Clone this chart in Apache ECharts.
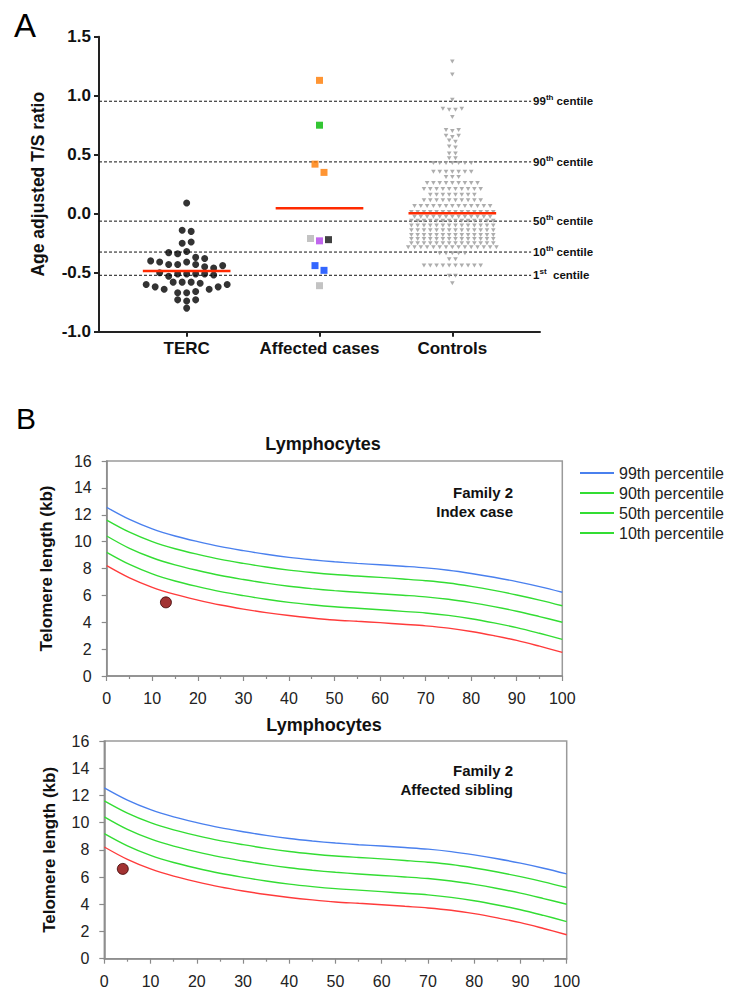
<!DOCTYPE html>
<html><head><meta charset="utf-8">
<script src="https://cdn.jsdelivr.net/npm/echarts@6/dist/echarts.min.js"></script>
<style>html,body{margin:0;padding:0;background:#fff}#c{width:736px;height:990px}</style>
</head><body><div id="c"></div>
<script>
// ---------- Panel A data ----------
const groupNames = ['TERC', 'Affected cases', 'Controls'];
const tercValues = [
  0.09,
  -0.14, -0.15,
  -0.25, -0.24,
  -0.33, -0.34, -0.32,
  -0.37, -0.40, -0.41, -0.43, -0.43, -0.41, -0.38,
  -0.43, -0.45, -0.46, -0.44,
  -0.50, -0.53, -0.51, -0.51, -0.51, -0.51, -0.52,
  -0.60, -0.62, -0.64, -0.58, -0.58, -0.58, -0.59, -0.64, -0.62, -0.60,
  -0.67, -0.67, -0.66,
  -0.73, -0.74, -0.73,
  -0.80
];
const affectedValues = [1.13, 0.75, 0.42, 0.35, -0.21, -0.23, -0.22, -0.44, -0.48, -0.61];
const affectedColors = ['#ff7a00', '#00b800', '#ff7a00', '#ff7a00', '#b4b4b4', '#b040e8', '#111111', '#0040ff', '#0040ff', '#b4b4b4'];
const controlValues = [
  1.29,
  1.18,
  0.965,
  0.89, 0.88, 0.88, 0.89,
  0.82,
  0.71, 0.70, 0.71,
  0.66, 0.65, 0.66,
  0.62, 0.61,
  0.57, 0.56,
  0.51, 0.51,
  0.47, 0.47,
  0.43, 0.43, 0.43, 0.43, 0.43, 0.43, 0.43,
  0.355, 0.355, 0.355, 0.355, 0.355, 0.355, 0.355,
  0.31, 0.31, 0.31,
  0.26, 0.26, 0.26, 0.26, 0.26, 0.26, 0.26, 0.26, 0.26,
  0.21, 0.21, 0.21, 0.21, 0.21, 0.21, 0.21, 0.21, 0.21, 0.21,
  0.16, 0.16, 0.16, 0.16, 0.16, 0.16, 0.16, 0.16,
  0.115, 0.115, 0.115, 0.115, 0.115, 0.115, 0.115, 0.115, 0.115, 0.115,
  0.065, 0.065, 0.065, 0.065, 0.065, 0.065, 0.065, 0.065, 0.065, 0.065, 0.065, 0.065, 0.065,
  0.015, 0.015, 0.015, 0.015, 0.015, 0.015, 0.015, 0.015, 0.015, 0.015, 0.015, 0.015, 0.015, 0.015,
  -0.025, -0.025, -0.025, -0.025, -0.025, -0.025, -0.025, -0.025, -0.025, -0.025, -0.025, -0.025, -0.025,
  -0.06, -0.06, -0.06, -0.06, -0.06, -0.06, -0.06, -0.06, -0.06, -0.06, -0.06, -0.06, -0.06, -0.06,
  -0.10, -0.10, -0.10, -0.10, -0.10, -0.10, -0.10, -0.10, -0.10, -0.10, -0.10, -0.10, -0.10, -0.10,
  -0.14, -0.14, -0.14, -0.14, -0.14, -0.14, -0.14, -0.14, -0.14, -0.14, -0.14, -0.14, -0.14, -0.14,
  -0.18, -0.18, -0.18, -0.18, -0.18, -0.18, -0.18, -0.18, -0.18, -0.18, -0.18, -0.18, -0.18, -0.18,
  -0.215, -0.215, -0.215, -0.215, -0.215, -0.215, -0.215, -0.215, -0.215, -0.215, -0.215, -0.215, -0.215, -0.215,
  -0.25, -0.25, -0.25, -0.25, -0.25, -0.25, -0.25, -0.25, -0.25, -0.25, -0.25, -0.25, -0.25, -0.25,
  -0.285, -0.285, -0.285, -0.285, -0.285, -0.285, -0.285, -0.285, -0.285, -0.285, -0.285, -0.285, -0.285, -0.285, -0.285,
  -0.335, -0.335, -0.335, -0.335, -0.335,
  -0.385, -0.385,
  -0.44, -0.44, -0.44, -0.44, -0.44, -0.44, -0.44, -0.44, -0.44, -0.44,
  -0.525, -0.525,
  -0.59
];
const groupMeans = [-0.485, 0.047, 0.004];
const centileNumbers = ['99', '90', '50', '10', '1'];
const centileSuffixes = ['th', 'th', 'th', 'th', 'st'];
const centileValues = [0.953, 0.439, -0.063, -0.325, -0.522];

// ---------- Panel B data ----------
const ages = [0, 5, 10, 15, 20, 25, 30, 35, 40, 45, 50, 55, 60, 65, 70, 75, 80, 85, 90, 95, 100];
const p99 = [12.55, 11.65, 10.95, 10.42, 10.0, 9.63, 9.33, 9.06, 8.83, 8.65, 8.5, 8.38, 8.28, 8.17, 8.05, 7.87, 7.63, 7.35, 7.02, 6.65, 6.23];
const p90 = [11.6, 10.7, 10.0, 9.47, 9.05, 8.68, 8.38, 8.11, 7.88, 7.7, 7.55, 7.44, 7.34, 7.22, 7.09, 6.92, 6.67, 6.37, 6.03, 5.65, 5.23];
const p50 = [10.42, 9.5, 8.8, 8.27, 7.85, 7.48, 7.18, 6.91, 6.68, 6.5, 6.35, 6.23, 6.12, 6.01, 5.89, 5.71, 5.46, 5.16, 4.82, 4.42, 4.0];
const p10 = [9.2, 8.3, 7.6, 7.07, 6.65, 6.28, 5.98, 5.71, 5.48, 5.3, 5.15, 5.04, 4.93, 4.81, 4.69, 4.51, 4.26, 3.95, 3.6, 3.18, 2.73];
const p1  = [8.21, 7.3, 6.6, 6.07, 5.65, 5.28, 4.98, 4.72, 4.5, 4.32, 4.17, 4.07, 3.97, 3.85, 3.73, 3.56, 3.31, 3.0, 2.65, 2.22, 1.76];
const percentileNames = ['99th percentile', '90th percentile', '50th percentile', '10th percentile', '1st percentile'];
const percentileColors = ['#4a80ee', '#33dd33', '#33dd33', '#33dd33', '#ff3b3b'];
const patientAges = [13, 4];
const patientLengths = [5.48, 6.6];
const panelTitles = ['Lymphocytes', 'Lymphocytes'];
const panelNotes = ['Family 2\nIndex case', 'Family 2\nAffected sibling'];

// ---------- chart ----------
const FONT = 'Liberation Sans, Arial, Helvetica, sans-serif';
const chart = echarts.init(document.getElementById('c'), null, {renderer: 'svg'});
const groupPos = [1, 2, 3];

function pairs(xs, ys) { return xs.map((x, i) => [x, ys[i]]); }

const series = [];
series.push({id: 'terc', type: 'scatter', xAxisIndex: 0, yAxisIndex: 0, symbol: 'circle', symbolSize: 7,
  itemStyle: {color: '#000'}, data: [], z: 3});
series.push({id: 'aff', type: 'scatter', xAxisIndex: 0, yAxisIndex: 0, symbol: 'rect', symbolSize: 7, data: [], z: 3});
series.push({id: 'ctrl', type: 'scatter', xAxisIndex: 0, yAxisIndex: 0, symbol: 'triangle', symbolRotate: 180,
  symbolSize: [4.6, 4], itemStyle: {color: '#999999'}, data: [], z: 3});
centileValues.forEach((v, i) => {
  series.push({type: 'line', xAxisIndex: 0, yAxisIndex: 0, symbol: 'none', silent: true, z: 2,
    lineStyle: {color: '#111', width: 1, type: [3, 2]},
    data: [[0.34, v], [3.593, v]],
    endLabel: {show: true, distance: 2, color: '#111', fontFamily: FONT,
      formatter: () => '{n|' + centileNumbers[i] + '}{s|' + centileSuffixes[i] + '}{n|' + (centileSuffixes[i] === 'st' ? '  ' : ' ') + 'centile}',
      rich: {n: {fontSize: 11.5, fontWeight: 'bold', fontFamily: FONT, color: '#111', lineHeight: 15},
             s: {fontSize: 8, fontWeight: 'bold', fontFamily: FONT, color: '#111', verticalAlign: 'top', lineHeight: 15, padding: [0, 0, 6, 0]}}}
  });
});
groupMeans.forEach((m, i) => {
  series.push({type: 'line', xAxisIndex: 0, yAxisIndex: 0, symbol: 'none', silent: true, z: 4,
    lineStyle: {color: '#ff2a00', width: 2.5},
    data: [[groupPos[i] - 0.33, m], [groupPos[i] + 0.33, m]]});
});
const curves = [p99, p90, p50, p10, p1];
[1, 2].forEach(g => {
  curves.forEach((c, k) => {
    series.push({name: percentileNames[k], type: 'line', xAxisIndex: g, yAxisIndex: g, symbol: 'none', smooth: 0.35,
      silent: true, lineStyle: {color: percentileColors[k], width: 1.4}, itemStyle: {color: percentileColors[k]},
      data: pairs(ages, c)});
  });
  series.push({type: 'scatter', xAxisIndex: g, yAxisIndex: g, symbol: 'circle', symbolSize: 11,
    itemStyle: {color: '#8b0000', borderColor: '#3a0000', borderWidth: 1}, z: 5,
    data: [[patientAges[g - 1], patientLengths[g - 1]]]});
});

const bAxisLine = {show: true, onZero: false, lineStyle: {color: '#8a8a8a', width: 1.5}};
const bTick = {show: true, length: 5, lineStyle: {color: '#8a8a8a', width: 1.2}};
function bx(g, margin) {
  return {gridIndex: g, type: 'value', min: 0, max: 100, interval: 10, splitLine: {show: false},
    axisLine: bAxisLine, axisTick: bTick,
    minorTick: {show: true, splitNumber: 2, length: 3, lineStyle: {color: '#8a8a8a', width: 1.2}},
    axisLabel: {fontSize: 16, color: '#222', fontFamily: FONT, margin: margin}};
}
function by(g, gap) {
  return {gridIndex: g, type: 'value', min: 0, max: 16, interval: 2, splitLine: {show: false},
    axisLine: bAxisLine, axisTick: bTick,
    axisLabel: {fontSize: 16, color: '#222', fontFamily: FONT, margin: 15},
    name: 'Telomere length (kb)', nameLocation: 'middle', nameGap: gap,
    nameTextStyle: {fontSize: 17, fontWeight: 'bold', color: '#111', fontFamily: FONT}};
}

const option = {
  animation: false,
  backgroundColor: '#fff',
  grid: [
    {left: 99, top: 36.7, width: 441, height: 295, outerBoundsMode: 'none'},
    {left: 106.7, top: 461, width: 455.6, height: 215, show: true, borderColor: '#9a9a9a', borderWidth: 1.5, outerBoundsMode: 'none'},
    {left: 104.3, top: 741, width: 462.4, height: 217.7, show: true, borderColor: '#9a9a9a', borderWidth: 1.5, outerBoundsMode: 'none'}
  ],
  xAxis: [
    {gridIndex: 0, type: 'value', min: 0.34, max: 3.66, splitLine: {show: false},
      axisLine: {show: true, onZero: false, lineStyle: {color: '#222', width: 2}},
      axisTick: {show: true, customValues: groupPos, length: 5, lineStyle: {color: '#222', width: 2}},
      axisLabel: {customValues: groupPos, formatter: v => groupNames[Math.round(v) - 1],
        fontSize: 17, fontWeight: 'bold', color: '#111', fontFamily: FONT, margin: 8}},
    bx(1, 14), bx(2, 15)
  ],
  yAxis: [
    {gridIndex: 0, type: 'value', min: -1, max: 1.5, interval: 0.5, splitLine: {show: false},
      axisLine: {show: true, onZero: false, lineStyle: {color: '#222', width: 2}},
      axisTick: {show: true, length: 5, lineStyle: {color: '#222', width: 2}},
      axisLabel: {formatter: v => v.toFixed(1), fontSize: 17, fontWeight: 'bold', color: '#111', fontFamily: FONT, margin: 8},
      name: 'Age adjusted T/S ratio', nameLocation: 'middle', nameGap: 52,
      nameTextStyle: {fontSize: 17.5, fontWeight: 'bold', color: '#111', fontFamily: FONT}},
    by(1, 52), by(2, 46)
  ],
  legend: {orient: 'vertical', left: 575, top: 459, icon: 'rect', itemWidth: 34, itemHeight: 2, itemGap: 2,
    selectedMode: false, data: percentileNames.slice(0, 4),
    textStyle: {fontSize: 16, color: '#222', fontFamily: FONT, lineHeight: 18}},
  graphic: [
    {type: 'text', x: 25, y: 25, style: {text: 'A', font: '33px ' + FONT, fill: '#000', textAlign: 'center', textVerticalAlign: 'middle'}},
    {type: 'text', x: 26, y: 418, style: {text: 'B', font: '30px ' + FONT, fill: '#000', textAlign: 'center', textVerticalAlign: 'middle'}},
    {type: 'text', x: 323, y: 444, style: {text: panelTitles[0], font: 'bold 18px ' + FONT, fill: '#111', textAlign: 'center', textVerticalAlign: 'middle'}},
    {type: 'text', x: 324, y: 725, style: {text: panelTitles[1], font: 'bold 18px ' + FONT, fill: '#111', textAlign: 'center', textVerticalAlign: 'middle'}},
    {type: 'text', x: 513, y: 502, style: {text: panelNotes[0], font: 'bold 15px ' + FONT, fill: '#111', textAlign: 'right', textVerticalAlign: 'middle', lineHeight: 18.5}},
    {type: 'text', x: 513, y: 780, style: {text: panelNotes[1], font: 'bold 15px ' + FONT, fill: '#111', textAlign: 'right', textVerticalAlign: 'middle', lineHeight: 18.5}}
  ],
  series: series
};
chart.setOption(option);

// ---------- beeswarm layout through the axis scales ----------
const pxPerY = Math.abs(chart.convertToPixel({yAxisIndex: 0}, 1) - chart.convertToPixel({yAxisIndex: 0}, 0));
const pxPerX = Math.abs(chart.convertToPixel({xAxisIndex: 0}, 1) - chart.convertToPixel({xAxisIndex: 0}, 0));
function swarm(values, center, rowPx, slotPx) {
  const idx = values.map((v, i) => i).sort((a, b) => values[b] - values[a] || a - b);
  const out = new Array(values.length);
  let i = 0;
  while (i < idx.length) {
    const start = values[idx[i]];
    let j = i;
    while (j < idx.length && (start - values[idx[j]]) * pxPerY < rowPx) j++;
    const row = idx.slice(i, j).sort((a, b) => a - b);
    row.forEach((k, p) => { out[k] = center + (p - (row.length - 1) / 2) * slotPx / pxPerX; });
    i = j;
  }
  return out;
}
const tx = swarm(tercValues, groupPos[0], 8, 9);
const ax = swarm(affectedValues, groupPos[1], 9, 9);
const cx = swarm(controlValues, groupPos[2], 3.5, 6.3);
chart.setOption({series: [
  {id: 'terc', data: tercValues.map((v, k) => [tx[k], v])},
  {id: 'aff', data: affectedValues.map((v, k) => ({value: [ax[k], v], itemStyle: {color: affectedColors[k]}}))},
  {id: 'ctrl', data: controlValues.map((v, k) => [cx[k], v])}
]});
</script>
</body></html>
